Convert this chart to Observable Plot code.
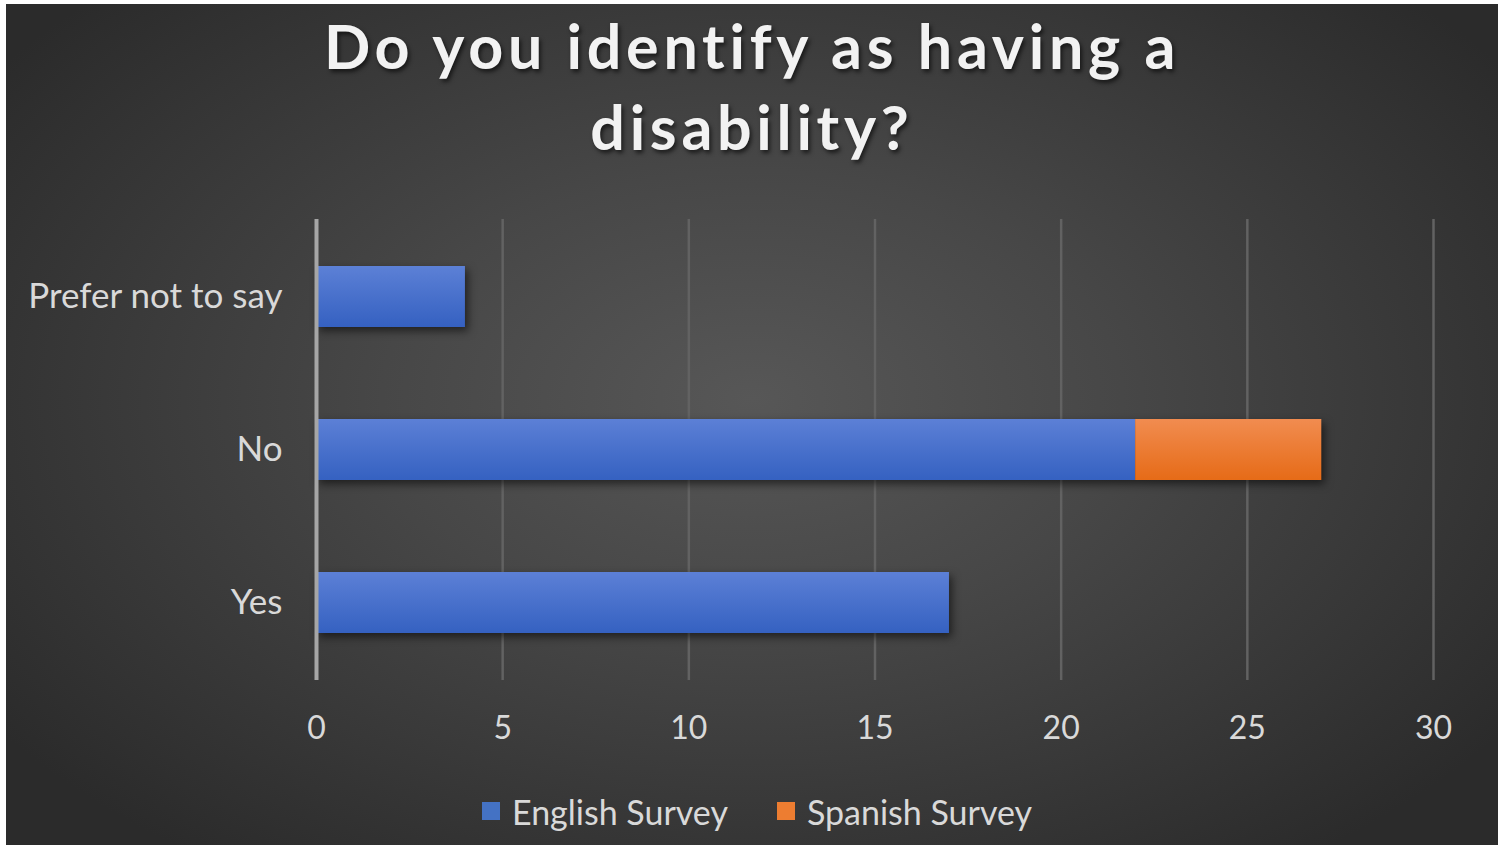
<!DOCTYPE html>
<html><head><meta charset="utf-8">
<script src="https://cdn.jsdelivr.net/npm/d3@7"></script>
<script src="https://cdn.jsdelivr.net/npm/@observablehq/plot@0.6"></script>
<style>
html,body{margin:0;padding:0;background:#fff;}
body{width:1504px;height:845px;overflow:hidden;position:relative;font-family:Lato,sans-serif;}
#panel{position:absolute;left:6px;top:4px;width:1492px;height:841px;overflow:hidden;
  background:radial-gradient(ellipse 62% 68% at 50% 47%, #575757 0%, #474747 40%, #2b2b2b 100%);}
#title{position:absolute;left:0;top:1px;width:100%;text-align:center;color:#f2f2f2;font-weight:700;
  font-size:61px;line-height:81px;letter-spacing:4.7px;text-shadow:2px 3px 4px rgba(0,0,0,.6);}
#chart{position:absolute;left:0;top:186px;}
#legend{position:absolute;left:0;top:787px;width:100%;height:40px;display:flex;justify-content:center;
  align-items:center;color:#d9d9d9;font-size:34px;padding-left:10px;box-sizing:border-box;}
.item{display:flex;align-items:center;margin:0 24.5px;}
.sw{width:18px;height:18px;margin-right:12px;}
</style></head>
<body>
<div id="panel">
  <div id="title">Do you identify as having a<br>disability?</div>
  <div id="chart"></div>
  <div id="legend"></div>
</div>
<script>
const categories = ["Prefer not to say", "No", "Yes"];
const series = ["English Survey", "Spanish Survey"];
const englishValues = [4, 22, 17];
const spanishValues = [0, 5, 0];
const xTicks = [0, 5, 10, 15, 20, 25, 30];
const seriesColors = ["#4472c4", "#ed7d31"];

const data = categories.flatMap((c, i) => [
  {category: c, series: series[0], value: englishValues[i]},
  {category: c, series: series[1], value: spanishValues[i]}
]);

const plot = Plot.plot({
  width: 1492, height: 580,
  marginTop: 29, marginBottom: 90, marginLeft: 310, marginRight: 65,
  style: {background: "transparent", color: "#d9d9d9", fontFamily: "Lato, sans-serif", fontSize: "32px"},
  x: {domain: [0, 30], ticks: xTicks, label: null, tickSize: 0, tickPadding: 36},
  y: {domain: categories, paddingInner: 0.6, paddingOuter: 0.3, label: null, tickSize: 0, tickPadding: 34},
  color: {domain: series, range: ["url(#gEng)", "url(#gSpa)"]},
  marks: [
    Plot.ruleX(xTicks.filter(d => d > 0), {stroke: "#626262", strokeWidth: 2.5}),
    Plot.barX(data, Plot.stackX({y: "category", x: "value", fill: "series", insetLeft: 0, insetRight: 0})),
    Plot.ruleX([0], {stroke: "#a6a6a6", strokeWidth: 4})
  ]
});

const svg = d3.select(plot);
const defs = svg.insert("defs", ":first-child");
const g1 = defs.append("linearGradient").attr("id", "gEng").attr("x1", 0).attr("y1", 0).attr("x2", 0).attr("y2", 1);
g1.append("stop").attr("offset", 0).attr("stop-color", "#5c80d6");
g1.append("stop").attr("offset", 1).attr("stop-color", "#3561c1");
const g2 = defs.append("linearGradient").attr("id", "gSpa").attr("x1", 0).attr("y1", 0).attr("x2", 0).attr("y2", 1);
g2.append("stop").attr("offset", 0).attr("stop-color", "#f18c50");
g2.append("stop").attr("offset", 1).attr("stop-color", "#e66b17");
svg.selectAll("g[aria-label='bar']").style("filter", "drop-shadow(3px 4px 4px rgba(0,0,0,0.55))");
svg.selectAll("g[aria-label='y-axis tick label']").attr("font-size", 35);

document.getElementById("chart").appendChild(plot);

const legend = document.getElementById("legend");
series.forEach((s, i) => {
  const it = document.createElement("div");
  it.className = "item";
  it.innerHTML = `<span class="sw" style="background:${seriesColors[i]}"></span><span>${s}</span>`;
  legend.appendChild(it);
});
</script>
</body></html>
